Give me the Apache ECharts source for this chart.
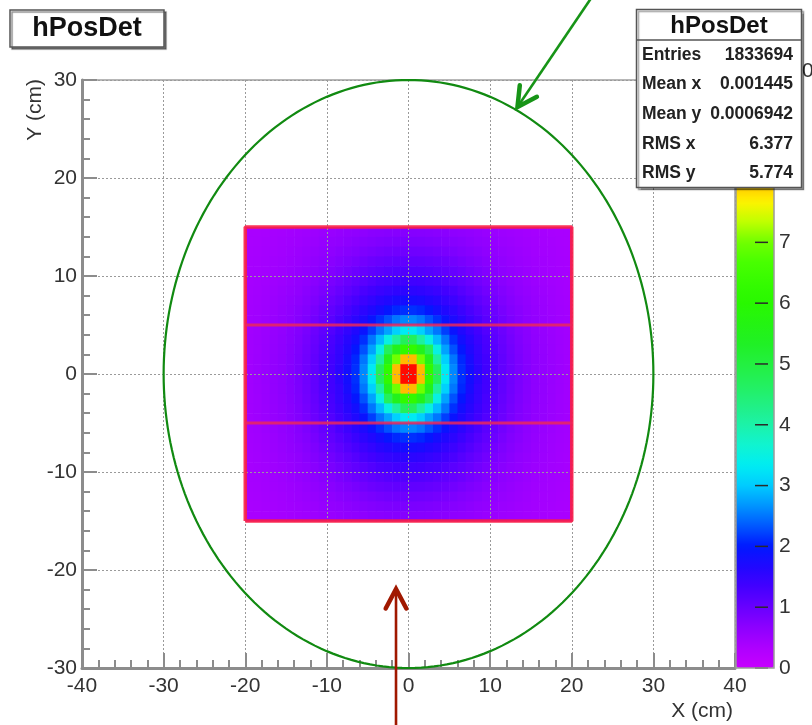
<!DOCTYPE html>
<html>
<head>
<meta charset="utf-8">
<script src="https://cdn.jsdelivr.net/npm/echarts@6/dist/echarts.min.js"></script>
<style>
html,body{margin:0;padding:0;background:#fff;}
#main{width:812px;height:725px;}
</style>
</head>
<body>
<div id="main"></div>
<script>
// ---------------- DATA ----------------
// bin edges of the 2D histogram (cm)
const xEdges = [-20,-19,-18,-17,-16,-15,-14,-13,-12,-11,-10,-9,-8,-7,-6,-5,-4,-3,-2,-1,0,1,2,3,4,5,6,7,8,9,10,11,12,13,14,15,16,17,18,19,20];
const yEdges = [15,14,13,12,11,10,9,8,7,6,5,4,3,2,1,0,-1,-2,-3,-4,-5,-6,-7,-8,-9,-10,-11,-12,-13,-14,-15]; // top to bottom
// bin contents, rows from top (y=15) to bottom (y=-15), columns from x=-20 to x=20
const binContents = [
[0.37,0.38,0.39,0.41,0.42,0.44,0.46,0.48,0.5,0.53,0.55,0.58,0.61,0.64,0.66,0.69,0.7,0.72,0.73,0.74,0.74,0.73,0.72,0.7,0.69,0.66,0.64,0.61,0.58,0.55,0.53,0.5,0.48,0.46,0.44,0.42,0.41,0.39,0.38,0.37],
[0.38,0.39,0.41,0.42,0.44,0.46,0.48,0.51,0.53,0.57,0.6,0.63,0.67,0.7,0.73,0.76,0.78,0.8,0.82,0.83,0.83,0.82,0.8,0.78,0.76,0.73,0.7,0.67,0.63,0.6,0.57,0.53,0.51,0.48,0.46,0.44,0.42,0.41,0.39,0.38],
[0.39,0.4,0.42,0.43,0.45,0.48,0.51,0.54,0.57,0.61,0.65,0.69,0.73,0.77,0.81,0.85,0.88,0.91,0.93,0.94,0.94,0.93,0.91,0.88,0.85,0.81,0.77,0.73,0.69,0.65,0.61,0.57,0.54,0.51,0.48,0.45,0.43,0.42,0.4,0.39],
[0.4,0.41,0.43,0.45,0.47,0.5,0.53,0.57,0.61,0.66,0.7,0.76,0.8,0.86,0.91,0.96,1.0,1.03,1.05,1.06,1.06,1.05,1.03,1.0,0.96,0.91,0.86,0.8,0.76,0.7,0.66,0.61,0.57,0.53,0.5,0.47,0.45,0.43,0.41,0.4],
[0.41,0.42,0.44,0.46,0.49,0.53,0.57,0.61,0.66,0.71,0.77,0.83,0.89,0.96,1.02,1.07,1.12,1.16,1.19,1.2,1.2,1.19,1.16,1.12,1.07,1.02,0.96,0.89,0.83,0.77,0.71,0.66,0.61,0.57,0.53,0.49,0.46,0.44,0.42,0.41],
[0.41,0.43,0.45,0.48,0.51,0.55,0.6,0.65,0.7,0.77,0.84,0.91,0.99,1.06,1.13,1.2,1.27,1.3,1.34,1.36,1.36,1.34,1.3,1.27,1.2,1.13,1.06,0.99,0.91,0.84,0.77,0.7,0.65,0.6,0.55,0.51,0.48,0.45,0.43,0.41],
[0.42,0.44,0.47,0.5,0.54,0.58,0.63,0.69,0.76,0.83,0.91,1.0,1.08,1.17,1.27,1.34,1.42,1.48,1.52,1.55,1.55,1.52,1.48,1.42,1.34,1.27,1.17,1.08,1.0,0.91,0.83,0.76,0.69,0.63,0.58,0.54,0.5,0.47,0.44,0.42],
[0.43,0.45,0.48,0.52,0.56,0.61,0.67,0.73,0.8,0.89,0.99,1.08,1.19,1.29,1.4,1.5,1.6,1.67,1.75,1.78,1.78,1.75,1.67,1.6,1.5,1.4,1.29,1.19,1.08,0.99,0.89,0.8,0.73,0.67,0.61,0.56,0.52,0.48,0.45,0.43],
[0.44,0.46,0.49,0.53,0.58,0.64,0.7,0.77,0.86,0.96,1.06,1.17,1.29,1.42,1.55,1.67,1.8,1.95,2.08,2.12,2.12,2.08,1.95,1.8,1.67,1.55,1.42,1.29,1.17,1.06,0.96,0.86,0.77,0.7,0.64,0.58,0.53,0.49,0.46,0.44],
[0.45,0.47,0.51,0.55,0.6,0.66,0.73,0.81,0.91,1.02,1.13,1.27,1.4,1.55,1.7,1.9,2.12,2.3,2.5,2.6,2.6,2.5,2.3,2.12,1.9,1.7,1.55,1.4,1.27,1.13,1.02,0.91,0.81,0.73,0.66,0.6,0.55,0.51,0.47,0.45],
[0.45,0.48,0.52,0.57,0.62,0.69,0.76,0.85,0.96,1.07,1.2,1.34,1.5,1.67,1.9,2.2,2.5,2.75,3.05,3.3,3.3,3.05,2.75,2.5,2.2,1.9,1.67,1.5,1.34,1.2,1.07,0.96,0.85,0.76,0.69,0.62,0.57,0.52,0.48,0.45],
[0.46,0.49,0.53,0.58,0.64,0.7,0.78,0.88,1.0,1.12,1.27,1.42,1.6,1.8,2.12,2.5,2.9,3.5,4.1,4.7,4.7,4.1,3.5,2.9,2.5,2.12,1.8,1.6,1.42,1.27,1.12,1.0,0.88,0.78,0.7,0.64,0.58,0.53,0.49,0.46],
[0.46,0.49,0.54,0.59,0.65,0.72,0.8,0.91,1.03,1.16,1.3,1.48,1.67,1.95,2.3,2.75,3.5,4.7,5.5,6.2,6.2,5.5,4.7,3.5,2.75,2.3,1.95,1.67,1.48,1.3,1.16,1.03,0.91,0.8,0.72,0.65,0.59,0.54,0.49,0.46],
[0.46,0.5,0.54,0.6,0.66,0.73,0.82,0.93,1.05,1.19,1.34,1.5,1.75,2.08,2.5,3.05,4.1,5.5,7.0,8.0,8.0,7.0,5.5,4.1,3.05,2.5,2.08,1.75,1.5,1.34,1.19,1.05,0.93,0.82,0.73,0.66,0.6,0.54,0.5,0.46],
[0.46,0.5,0.55,0.6,0.66,0.74,0.83,0.94,1.05,1.2,1.35,1.55,1.8,2.12,2.6,3.3,4.7,6.2,8.0,9.5,9.5,8.0,6.2,4.7,3.3,2.6,2.12,1.8,1.55,1.35,1.2,1.05,0.94,0.83,0.74,0.66,0.6,0.55,0.5,0.46],
[0.46,0.5,0.55,0.6,0.66,0.74,0.83,0.94,1.05,1.2,1.35,1.55,1.8,2.12,2.6,3.3,4.7,6.2,8.0,9.5,9.5,8.0,6.2,4.7,3.3,2.6,2.12,1.8,1.55,1.35,1.2,1.05,0.94,0.83,0.74,0.66,0.6,0.55,0.5,0.46],
[0.46,0.5,0.54,0.6,0.66,0.73,0.82,0.93,1.05,1.19,1.34,1.5,1.75,2.08,2.5,3.05,4.1,5.5,7.0,8.0,8.0,7.0,5.5,4.1,3.05,2.5,2.08,1.75,1.5,1.34,1.19,1.05,0.93,0.82,0.73,0.66,0.6,0.54,0.5,0.46],
[0.46,0.49,0.54,0.59,0.65,0.72,0.8,0.91,1.03,1.16,1.3,1.48,1.67,1.95,2.3,2.75,3.5,4.7,5.5,6.2,6.2,5.5,4.7,3.5,2.75,2.3,1.95,1.67,1.48,1.3,1.16,1.03,0.91,0.8,0.72,0.65,0.59,0.54,0.49,0.46],
[0.46,0.49,0.53,0.58,0.64,0.7,0.78,0.88,1.0,1.12,1.27,1.42,1.6,1.8,2.12,2.5,2.9,3.5,4.1,4.7,4.7,4.1,3.5,2.9,2.5,2.12,1.8,1.6,1.42,1.27,1.12,1.0,0.88,0.78,0.7,0.64,0.58,0.53,0.49,0.46],
[0.45,0.48,0.52,0.57,0.62,0.69,0.76,0.85,0.96,1.07,1.2,1.34,1.5,1.67,1.9,2.2,2.5,2.75,3.05,3.3,3.3,3.05,2.75,2.5,2.2,1.9,1.67,1.5,1.34,1.2,1.07,0.96,0.85,0.76,0.69,0.62,0.57,0.52,0.48,0.45],
[0.45,0.47,0.51,0.55,0.6,0.66,0.73,0.81,0.91,1.02,1.13,1.27,1.4,1.55,1.7,1.9,2.12,2.3,2.5,2.6,2.6,2.5,2.3,2.12,1.9,1.7,1.55,1.4,1.27,1.13,1.02,0.91,0.81,0.73,0.66,0.6,0.55,0.51,0.47,0.45],
[0.44,0.46,0.49,0.53,0.58,0.64,0.7,0.77,0.86,0.96,1.06,1.17,1.29,1.42,1.55,1.67,1.8,1.95,2.08,2.12,2.12,2.08,1.95,1.8,1.67,1.55,1.42,1.29,1.17,1.06,0.96,0.86,0.77,0.7,0.64,0.58,0.53,0.49,0.46,0.44],
[0.43,0.45,0.48,0.52,0.56,0.61,0.67,0.73,0.8,0.89,0.99,1.08,1.19,1.29,1.4,1.5,1.6,1.67,1.75,1.78,1.78,1.75,1.67,1.6,1.5,1.4,1.29,1.19,1.08,0.99,0.89,0.8,0.73,0.67,0.61,0.56,0.52,0.48,0.45,0.43],
[0.42,0.44,0.47,0.5,0.54,0.58,0.63,0.69,0.76,0.83,0.91,1.0,1.08,1.17,1.27,1.34,1.42,1.48,1.52,1.55,1.55,1.52,1.48,1.42,1.34,1.27,1.17,1.08,1.0,0.91,0.83,0.76,0.69,0.63,0.58,0.54,0.5,0.47,0.44,0.42],
[0.41,0.43,0.45,0.48,0.51,0.55,0.6,0.65,0.7,0.77,0.84,0.91,0.99,1.06,1.13,1.2,1.27,1.3,1.34,1.36,1.36,1.34,1.3,1.27,1.2,1.13,1.06,0.99,0.91,0.84,0.77,0.7,0.65,0.6,0.55,0.51,0.48,0.45,0.43,0.41],
[0.41,0.42,0.44,0.46,0.49,0.53,0.57,0.61,0.66,0.71,0.77,0.83,0.89,0.96,1.02,1.07,1.12,1.16,1.19,1.2,1.2,1.19,1.16,1.12,1.07,1.02,0.96,0.89,0.83,0.77,0.71,0.66,0.61,0.57,0.53,0.49,0.46,0.44,0.42,0.41],
[0.4,0.41,0.43,0.45,0.47,0.5,0.53,0.57,0.61,0.66,0.7,0.76,0.8,0.86,0.91,0.96,1.0,1.03,1.05,1.06,1.06,1.05,1.03,1.0,0.96,0.91,0.86,0.8,0.76,0.7,0.66,0.61,0.57,0.53,0.5,0.47,0.45,0.43,0.41,0.4],
[0.39,0.4,0.42,0.43,0.45,0.48,0.51,0.54,0.57,0.61,0.65,0.69,0.73,0.77,0.81,0.85,0.88,0.91,0.93,0.94,0.94,0.93,0.91,0.88,0.85,0.81,0.77,0.73,0.69,0.65,0.61,0.57,0.54,0.51,0.48,0.45,0.43,0.42,0.4,0.39],
[0.38,0.39,0.41,0.42,0.44,0.46,0.48,0.51,0.53,0.57,0.6,0.63,0.67,0.7,0.73,0.76,0.78,0.8,0.82,0.83,0.83,0.82,0.8,0.78,0.76,0.73,0.7,0.67,0.63,0.6,0.57,0.53,0.51,0.48,0.46,0.44,0.42,0.41,0.39,0.38],
[0.37,0.38,0.39,0.41,0.42,0.44,0.46,0.48,0.5,0.53,0.55,0.58,0.61,0.64,0.66,0.69,0.7,0.72,0.73,0.74,0.74,0.73,0.72,0.7,0.69,0.66,0.64,0.61,0.58,0.55,0.53,0.5,0.48,0.46,0.44,0.42,0.41,0.39,0.38,0.37]
];
// z (colour) axis range
const zMin = 0;
const zMax = 9.67;
const zTicks = [0,1,2,3,4,5,6,7,8,9];
// axis ranges and ticks
const xTicks = [-40,-30,-20,-10,0,10,20,30,40];
const yTicks = [-30,-20,-10,0,10,20,30];
// detector outline (red) and its strip boundaries
const detectorX = [-20, 20];
const detectorY = [-15, 15];
const stripY = [-5, 5];
// acceptance circle (green)
const circleCenter = [0, 0];
const circleRadius = 30;
// annotation arrows: [xTail, yTail, xHead, yHead]
const arrows = [
  [22.9, 39.0, 13.35, 27.24],
  [-1.53, -36.5, -1.53, -21.94]
];
// statistics box
const statTitle = 'hPosDet';
const statLabels = ['Entries', 'Mean x', 'Mean y', 'RMS x', 'RMS y'];
const statValues = ['1833694', '0.001445', '0.0006942', '6.377', '5.774'];
const histTitle = 'hPosDet';
const xTitle = 'X (cm)';
const yTitle = 'Y (cm)';

// ---------------- STYLE ----------------
const palette = ['#c800ff','#ad00ff','#8d00ff','#6800ff','#4300ff','#2008ff','#0018ff','#0058ff','#0094ff','#00ccff',
                 '#00edf2','#10f4d0','#1cf2a8','#21f082','#23f05e','#23f040','#20f025','#24f412','#28f800','#35fc00',
                 '#48ff00','#70ff00','#bfff00','#fff300','#ffbb00','#ff8400','#ff5600','#ff3200','#ff1600','#ff0000'];
const arrowColors = ['#179417', '#a01800'];
const FONT = 'Liberation Sans, Arial, Helvetica, sans-serif';

// ---------------- BUILD ----------------
const cells = [];
for (let r = 0; r < binContents.length; r++) {
  for (let c = 0; c < binContents[r].length; c++) {
    cells.push([xEdges[c], yEdges[r + 1], xEdges[c + 1], yEdges[r], binContents[r][c]]);
  }
}
const outline = [
  [detectorX[0], detectorY[0]], [detectorX[1], detectorY[0]],
  [detectorX[1], detectorY[1]], [detectorX[0], detectorY[1]], [detectorX[0], detectorY[0]]
];

const chart = echarts.init(document.getElementById('main'));

const axisGray = '#8c8c8c';
const option = {
  animation: false,
  backgroundColor: '#fff',
  grid: [
    {left: 82, top: 80, width: 653, height: 588, show: true, borderColor: '#a0a0a0', borderWidth: 1.5, backgroundColor: 'transparent'},
    {left: 736, top: 80, width: 38, height: 588}
  ],
  xAxis: [
    {type: 'value', gridIndex: 0, min: xTicks[0], max: xTicks[xTicks.length - 1], interval: 10, z: 3,
     axisLine: {show: true, onZero: false, lineStyle: {color: axisGray, width: 3}},
     axisTick: {show: true, inside: true, length: 15, lineStyle: {color: axisGray, width: 2}},
     minorTick: {show: true, splitNumber: 5, length: 8, lineStyle: {color: axisGray, width: 2}},
     splitLine: {show: true, lineStyle: {color: '#9a9a9a', type: [2, 2], width: 1}},
     axisLabel: {fontSize: 21, color: '#333', margin: 8, fontFamily: FONT}},
    {type: 'value', gridIndex: 1, min: 0, max: 1, show: false}
  ],
  yAxis: [
    {type: 'value', gridIndex: 0, min: yTicks[0], max: yTicks[yTicks.length - 1], interval: 10, z: 3,
     axisLine: {show: true, onZero: false, lineStyle: {color: axisGray, width: 3}},
     axisTick: {show: true, inside: true, length: 15, lineStyle: {color: axisGray, width: 2}},
     minorTick: {show: true, splitNumber: 5, length: 8, lineStyle: {color: axisGray, width: 2}},
     splitLine: {show: true, lineStyle: {color: '#9a9a9a', type: [2, 2], width: 1}},
     axisLabel: {fontSize: 21, color: '#333', margin: 5, fontFamily: FONT}},
    {type: 'value', gridIndex: 1, min: zMin, max: zMax, interval: 1, position: 'right', z: 10,
     axisLine: {show: false},
     axisTick: {show: false},
     splitLine: {show: false},
     axisLabel: {fontSize: 21, color: '#333', margin: 5, fontFamily: FONT,
                 formatter: v => (zTicks.indexOf(v) >= 0 ? String(v) : '')}}
  ],
  visualMap: {
    type: 'continuous', seriesIndex: 0, dimension: 4, min: zMin, max: zMax,
    calculable: false, orient: 'vertical', left: 736, top: 80, itemWidth: 38, itemHeight: 588,
    padding: 0, text: null, hoverLink: false, inRange: {color: palette}
  },
  series: [
    {
      type: 'custom', xAxisIndex: 0, yAxisIndex: 0, data: cells, z: 2, silent: true,
      encode: {x: [0, 2], y: [1, 3]},
      renderItem: function (params, api) {
        const p0 = api.coord([api.value(0), api.value(3)]);
        const p1 = api.coord([api.value(2), api.value(1)]);
        return {type: 'rect',
          shape: {x: p0[0], y: p0[1], width: p1[0] - p0[0] + 0.6, height: p1[1] - p0[1] + 0.6},
          style: {fill: api.visual('color'), stroke: null}};
      }
    },
    {type: 'line', xAxisIndex: 0, yAxisIndex: 0, data: outline, symbol: 'none', z: 4, silent: true,
     lineStyle: {color: 'rgba(250,30,70,0.9)', width: 3.5}},
    {type: 'line', xAxisIndex: 0, yAxisIndex: 0, data: [[detectorX[0], stripY[1]], [detectorX[1], stripY[1]]], symbol: 'none', z: 4, silent: true,
     lineStyle: {color: 'rgba(235,40,90,0.85)', width: 3}},
    {type: 'line', xAxisIndex: 0, yAxisIndex: 0, data: [[detectorX[0], stripY[0]], [detectorX[1], stripY[0]]], symbol: 'none', z: 4, silent: true,
     lineStyle: {color: 'rgba(235,40,90,0.85)', width: 3}},
    {
      type: 'custom', xAxisIndex: 0, yAxisIndex: 0, data: [[circleCenter[0], circleCenter[1], circleRadius]], z: 4, silent: true, clip: false,
      renderItem: function (params, api) {
        const cx = api.value(0), cy = api.value(1), R = api.value(2);
        const pts = [];
        for (let k = 0; k <= 240; k++) {
          const a = 2 * Math.PI * k / 240;
          pts.push(api.coord([cx + R * Math.cos(a), cy + R * Math.sin(a)]));
        }
        return {type: 'polyline', shape: {points: pts}, style: {stroke: '#118a11', lineWidth: 2.2, fill: null}};
      }
    },
    {
      type: 'custom', xAxisIndex: 0, yAxisIndex: 0, data: arrows, z: 6, silent: true, clip: false,
      renderItem: function (params, api) {
        const tail = api.coord([api.value(0), api.value(1)]);
        const head = api.coord([api.value(2), api.value(3)]);
        const dx = tail[0] - head[0], dy = tail[1] - head[1];
        const L = Math.sqrt(dx * dx + dy * dy);
        const ux = dx / L, uy = dy / L;
        const ang = 28 * Math.PI / 180, len = 22;
        const rot = (s) => [head[0] + len * (ux * Math.cos(s) - uy * Math.sin(s)), head[1] + len * (ux * Math.sin(s) + uy * Math.cos(s))];
        const color = arrowColors[params.dataIndex];
        return {type: 'group', children: [
          {type: 'line', shape: {x1: tail[0], y1: tail[1], x2: head[0], y2: head[1]}, style: {stroke: color, lineWidth: 2.6}},
          {type: 'polyline', shape: {points: [rot(ang), head, rot(-ang)]}, style: {stroke: color, lineWidth: 4.5, fill: null, lineJoin: 'miter', lineCap: 'round'}}
        ]};
      }
    },
    {
      // colour-bar tick marks
      type: 'custom', xAxisIndex: 1, yAxisIndex: 1, data: zTicks.map(v => [1, v]), z: 20, silent: true, clip: false,
      renderItem: function (params, api) {
        const p = api.coord([api.value(0), api.value(1)]);
        return {type: 'line', shape: {x1: p[0] - 19, y1: p[1], x2: p[0] - 6, y2: p[1]}, style: {stroke: '#2a2a2a', lineWidth: 1.5}};
      }
    }
  ],
  graphic: [
    // histogram title box
    {type: 'rect', z: 100, shape: {x: 10, y: 10, width: 154, height: 37},
     style: {fill: '#fff', stroke: '#555', lineWidth: 1.5, shadowColor: 'rgba(0,0,0,0.45)', shadowOffsetX: 2, shadowOffsetY: 2, shadowBlur: 1}},
    {type: 'text', z: 101, x: 87, y: 29, style: {text: histTitle, fontSize: 27, fontWeight: 'bold', fontFamily: FONT, fill: '#111', align: 'center', verticalAlign: 'middle'}},
    // axis titles
    {type: 'text', z: 101, x: 733, y: 711, style: {text: xTitle, fontSize: 21, fontFamily: FONT, fill: '#333', align: 'right', verticalAlign: 'middle'}},
    {type: 'text', z: 101, x: 35, y: 79, rotation: Math.PI / 2, style: {text: yTitle, fontSize: 21, fontFamily: FONT, fill: '#333', align: 'right', verticalAlign: 'middle'}},
    // colour bar frame
    {type: 'rect', z: 50, shape: {x: 736, y: 80, width: 38, height: 588}, style: {fill: null, stroke: '#9a9a9a', lineWidth: 1.5}},
    // partially hidden label at the top right
    {type: 'text', z: 20, x: 802, y: 71, style: {text: '0', fontSize: 21, fontFamily: FONT, fill: '#333', align: 'left', verticalAlign: 'middle'}},
    // statistics box
    {type: 'rect', z: 100, shape: {x: 636.5, y: 9.5, width: 165, height: 178},
     style: {fill: '#fff', stroke: '#555', lineWidth: 1.5, shadowColor: 'rgba(0,0,0,0.35)', shadowOffsetX: 2, shadowOffsetY: 2, shadowBlur: 1}},
    {type: 'line', z: 101, shape: {x1: 636.5, y1: 40, x2: 801.5, y2: 40}, style: {stroke: '#555', lineWidth: 1.5}},
    {type: 'text', z: 101, x: 719, y: 26, style: {text: statTitle, fontSize: 24, fontWeight: 'bold', fontFamily: FONT, fill: '#111', align: 'center', verticalAlign: 'middle'}}
  ].concat(statLabels.map((s, i) => ({type: 'text', z: 101, x: 642, y: 55 + i * 29.6,
      style: {text: s, fontSize: 17.5, fontWeight: 'bold', fontFamily: FONT, fill: '#222', align: 'left', verticalAlign: 'middle'}})))
   .concat(statValues.map((s, i) => ({type: 'text', z: 101, x: 793, y: 55 + i * 29.6,
      style: {text: s, fontSize: 17.5, fontWeight: 'bold', fontFamily: FONT, fill: '#222', align: 'right', verticalAlign: 'middle'}})))
};
chart.setOption(option);
</script>
</body>
</html>
